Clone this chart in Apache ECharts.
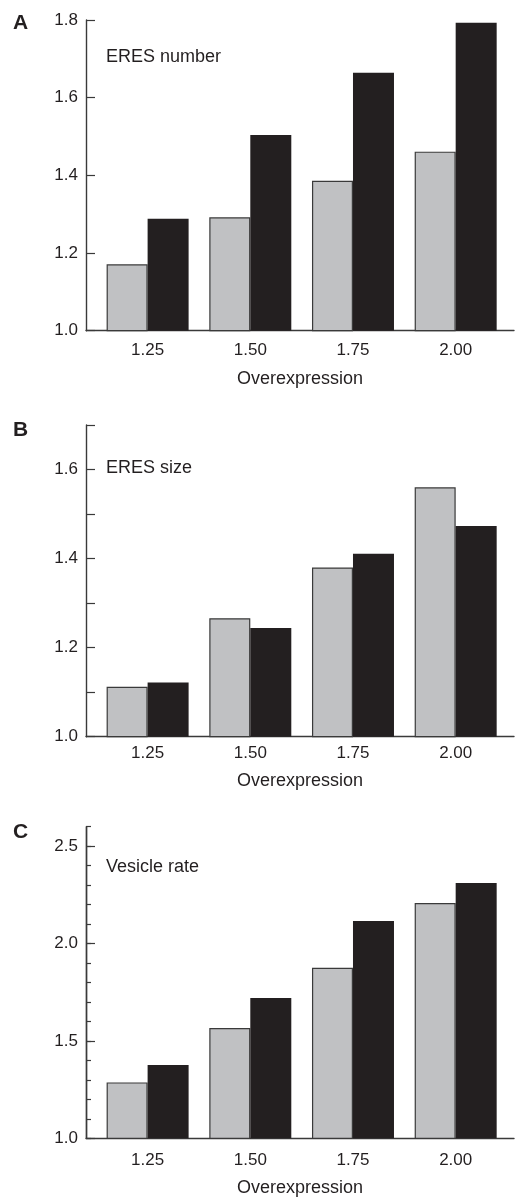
<!DOCTYPE html>
<html>
<head>
<meta charset="utf-8">
<script src="https://cdn.jsdelivr.net/npm/echarts@6/dist/echarts.min.js"></script>
<style>
html,body{margin:0;padding:0;background:#fff;}
#chart{width:515px;height:1197px;}
</style>
</head>
<body>
<div id="chart"></div>
<script>
// ---- data ----
var categories = [1.25, 1.50, 1.75, 2.00];
var panelLetters = ['A', 'B', 'C'];
var panelTitles = ['ERES number', 'ERES size', 'Vesicle rate'];
var xAxisName = 'Overexpression';

var ndGray  = [1.171, 1.292, 1.386, 1.461];   // A grey
var ndBlack = [1.288, 1.504, 1.664, 1.793];   // A black
var sizeGray  = [1.112, 1.266, 1.380, 1.560]; // B grey
var sizeBlack = [1.122, 1.244, 1.411, 1.473]; // B black
var vesGray  = [1.287, 1.566, 1.876, 2.208];  // C grey
var vesBlack = [1.376, 1.720, 2.116, 2.311];  // C black

var yTicksA = [1.0, 1.2, 1.4, 1.6, 1.8];
var yTicksB = [1.0, 1.2, 1.4, 1.6];
var yTicksC = [1.0, 1.5, 2.0, 2.5];

// ---- style ----
var FONT = '"Liberation Sans", Arial, Helvetica, sans-serif';
var AXIS_COLOR = '#3a3a3a';
var TEXT_COLOR = '#231f20';
var GRAY = '#c0c1c3';
var BLACK = '#231f20';
var TICK_FS = 17;

function pairs(vals) { return categories.map(function (c, i) { return [c, vals[i]]; }); }

var grids = [
  { left: 86, right: 1, top: 20, height: 310.7, outerBoundsMode: 'none' },
  { left: 86, right: 1, top: 425, height: 311.7, outerBoundsMode: 'none' },
  { left: 86, right: 1, top: 826.7, height: 311.6, outerBoundsMode: 'none' }
];
var labelMargins = [11, 8, 14];
var nameGaps = [39, 35, 41];

var xAxes = grids.map(function (g, i) {
  return {
    type: 'value', gridIndex: i, min: 1.1, max: 2.142,
    axisLine: { show: true, lineStyle: { color: AXIS_COLOR, width: 1.4 } },
    axisTick: { show: false },
    splitLine: { show: false },
    axisLabel: {
      customValues: categories, margin: labelMargins[i],
      color: TEXT_COLOR, fontFamily: FONT, fontSize: TICK_FS,
      formatter: function (v) { return v.toFixed(2); }
    },
    name: xAxisName, nameLocation: 'middle', nameGap: nameGaps[i],
    nameTextStyle: { color: TEXT_COLOR, fontFamily: FONT, fontSize: 18 }
  };
});

function yAxisBase(gi, min, max) {
  return {
    type: 'value', gridIndex: gi, min: min, max: max, position: 'left',
    axisLine: { show: true, lineStyle: { color: AXIS_COLOR, width: 1.4 } },
    splitLine: { show: false }
  };
}
var yA = yAxisBase(0, 1.0, 1.8);
yA.interval = 0.2;
yA.axisTick = { show: true, inside: true, length: 9, lineStyle: { color: AXIS_COLOR, width: 1.2 } };
yA.axisLabel = { margin: 8, color: TEXT_COLOR, fontFamily: FONT, fontSize: TICK_FS,
  customValues: yTicksA, formatter: function (v) { return v.toFixed(1); } };

var yB = yAxisBase(1, 1.0, 1.7);
yB.interval = 0.1;
yB.axisTick = { show: true, inside: true, length: 9, lineStyle: { color: AXIS_COLOR, width: 1.2 } };
yB.axisLabel = { margin: 8, color: TEXT_COLOR, fontFamily: FONT, fontSize: TICK_FS,
  customValues: yTicksB, formatter: function (v) { return v.toFixed(1); } };

var yC1 = yAxisBase(2, 1.0, 2.6);
yC1.interval = 0.1;
yC1.axisTick = { show: true, inside: true, length: 5, lineStyle: { color: AXIS_COLOR, width: 1.2 } };
yC1.axisLabel = { show: false };

var yC2 = yAxisBase(2, 1.0, 2.6);
yC2.interval = 0.5;
yC2.axisTick = { show: true, inside: true, length: 9, customValues: yTicksC, lineStyle: { color: AXIS_COLOR, width: 1.2 } };
yC2.axisLabel = { margin: 8, color: TEXT_COLOR, fontFamily: FONT, fontSize: TICK_FS,
  customValues: yTicksC, formatter: function (v) { return v.toFixed(1); } };

function barSeries(name, gi, yi, vals, isGray) {
  return {
    type: 'bar', name: name, xAxisIndex: gi, yAxisIndex: yi,
    data: pairs(vals), barWidth: 41, barGap: '0%', clip: true,
    itemStyle: isGray ? { color: GRAY, borderColor: '#3a3a3a', borderWidth: 1.2 }
                      : { color: BLACK, borderColor: BLACK, borderWidth: 0 },
    silent: true, animation: false
  };
}

var series = [
  barSeries('A grey', 0, 0, ndGray, true),
  barSeries('A black', 0, 0, ndBlack, false),
  barSeries('B grey', 1, 1, sizeGray, true),
  barSeries('B black', 1, 1, sizeBlack, false),
  barSeries('C grey', 2, 2, vesGray, true),
  barSeries('C black', 2, 2, vesBlack, false)
];

var letterY = [25, 432, 834];
var titleY = [58, 469, 868];
var graphics = [];
panelLetters.forEach(function (t, i) {
  graphics.push({ type: 'text', left: 13, top: letterY[i] - 12,
    style: { text: t, font: 'bold 21px ' + FONT, fill: TEXT_COLOR } });
  graphics.push({ type: 'text', left: 106, top: titleY[i] - 10,
    style: { text: panelTitles[i], font: '18px ' + FONT, fill: TEXT_COLOR } });
});

var chart = echarts.init(document.getElementById('chart'), null, { renderer: 'canvas' });
chart.setOption({
  animation: false,
  backgroundColor: '#ffffff',
  grid: grids,
  xAxis: xAxes,
  yAxis: [yA, yB, yC1, yC2],
  series: series,
  graphic: graphics
});
</script>
</body>
</html>
